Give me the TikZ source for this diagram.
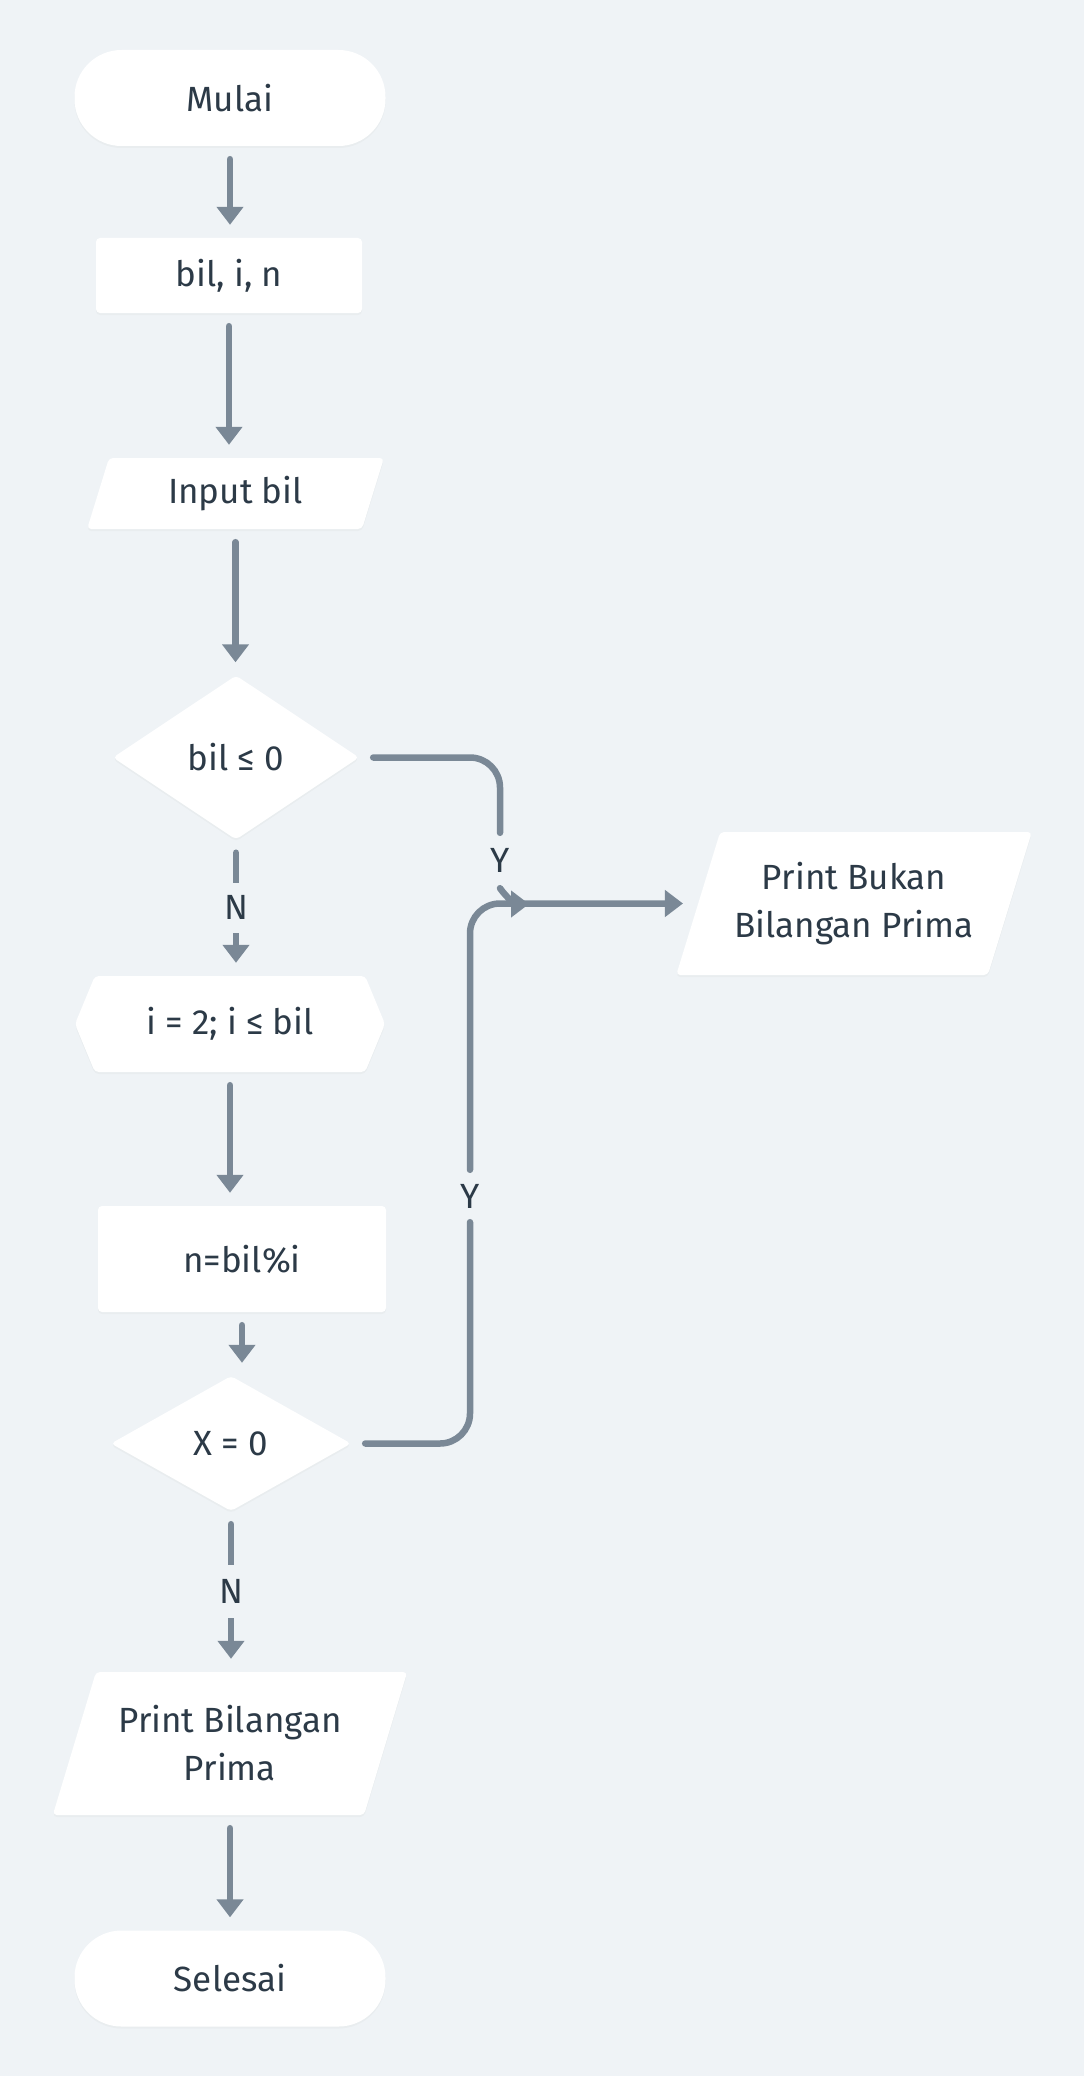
\documentclass[tikz,border=0pt]{standalone}
\usepackage{fontspec}
\setmainfont{Fira Sans}
\usetikzlibrary{shapes.geometric,shapes.symbols,arrows.meta,shadows}
\definecolor{bgcol}{RGB}{239,243,246}
\definecolor{linecol}{RGB}{122,136,150}
\definecolor{txtcol}{RGB}{44,58,71}
\tikzset{
  base/.style={fill=white, text=txtcol, inner sep=0pt, align=center,
    font=\fontsize{35}{48}\selectfont,
    drop shadow={shadow xshift=0pt, shadow yshift=-2pt, opacity=0.05}},
  terminal/.style={base, rectangle, rounded corners=47pt,
    minimum width=311pt, minimum height=96pt},
  process/.style={base, rectangle, rounded corners=4pt},
  io/.style={base, trapezium, trapezium stretches=true, rounded corners=4pt},
  decision/.style={base, diamond, rounded corners=4pt},
  loopbox/.style={base, signal, signal to=west and east, rounded corners=4pt},
  link/.style={draw=linecol, line width=6.5pt, line cap=round},
  tip/.style={-{Triangle[width=26pt,length=18pt]}},
  flow/.style={link, tip, shorten <=13pt, shorten >=13pt},
  lbl/.style={text=txtcol, inner sep=0pt, font=\fontsize{35}{42}\selectfont}
}
\begin{document}
\begin{tikzpicture}[x=1pt,y=-1pt]
  \fill[bgcol] (0,0) rectangle (1084,2076);
  \useasboundingbox (0,0) rectangle (1084,2076);
  % main column
  \node (start) at (230,98) [terminal] {Mulai};
  \node (decl) at (229,275.5) [process, minimum width=266pt, minimum height=75pt] {bil, i, n};
  \node (inbil) at (235.5,493.5) [io, minimum width=297pt, minimum height=71pt,
    trapezium left angle=71.4, trapezium right angle=108.6] {Input bil};
  \node (cek) at (236,757.5) [decision, minimum width=246pt, minimum height=164pt] {bil ≤ 0};
  \node (loop) at (230,1024) [loopbox, minimum width=310pt, minimum height=96pt,
    signal pointer angle=135] {i = 2; i ≤ bil};
  \node (hitung) at (242,1259) [process, minimum width=288pt, minimum height=106pt] {n=bil\%i};
  \node (cekmod) at (231,1443.5) [decision, minimum width=240pt, minimum height=135pt] {X = 0};
  \node (prime) at (230,1743.5) [io, minimum width=356pt, minimum height=143pt,
    trapezium left angle=64.6, trapezium right angle=115.4] {Print Bilangan\\Prima};
  \node (finish) at (230,1978.5) [terminal] {Selesai};
  % output on the right
  \node (notprime) at (854,903.5) [io, minimum width=356pt, minimum height=143pt,
    trapezium left angle=64.6, trapezium right angle=115.4] {Print Bukan\\Bilangan Prima};
  % Arrows
  \draw[flow] (start.south) -- (start.south |- decl.north);
  \draw[flow] (decl.south) -- (decl.south |- inbil.north);
  \draw[flow] (inbil.south) -- (inbil.south |- cek.north);
  \draw[flow] (cek.south) -- node[lbl, fill=bgcol, minimum height=50pt] {N} (cek.south |- loop.north);
  \draw[flow] (loop.south) -- (loop.south |- hitung.north);
  \draw[flow] (hitung.south) -- (hitung.south |- cekmod.north);
  \draw[flow] (cekmod.south) -- node[lbl, fill=bgcol, minimum height=53pt] {N} (cekmod.south |- prime.north);
  \draw[flow] (prime.south) -- (prime.south |- finish.north);
  % Y branches
  \node (y1) at (500,860.5) [lbl, minimum height=55pt] {Y};
  \node (y2) at (470,1196) [lbl, minimum height=52pt] {Y};
  \coordinate (join) at (529,904);
  \draw[link, rounded corners=30pt, shorten <=14pt] (cek.east) -| (y1.north);
  \draw[link, rounded corners=30pt, shorten <=14pt] (cekmod.east) -| (y2.south);
  \draw[flow, rounded corners=30pt, shorten <=0pt, shorten >=15pt] (y2.north) |- (notprime);
  \draw[link, tip] (y1.south) to[out=-55,in=180] (join);
\end{tikzpicture}
\end{document}
